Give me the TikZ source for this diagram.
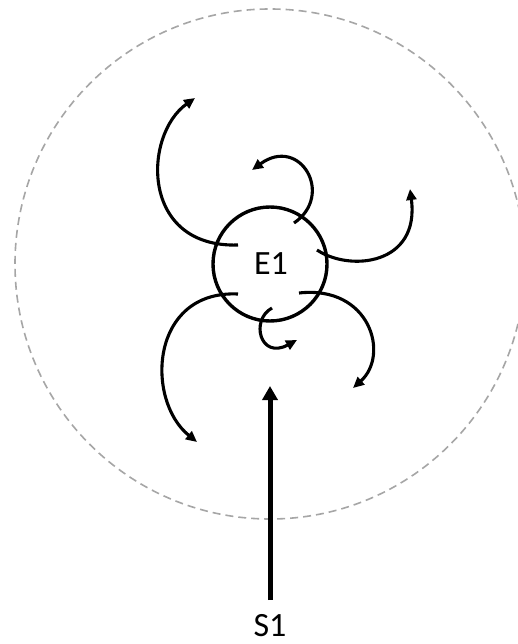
\documentclass[tikz,border=0pt]{standalone}
\usepackage{fontspec}
\setmainfont{Carlito}
\usetikzlibrary{arrows.meta}
\definecolor{dashgray}{HTML}{A6A6A6}
\tikzset{
  flow/.style={line width=3.1pt, -{Triangle[length=11pt,width=10pt]}},
  bigflow/.style={line width=5pt, -{Triangle[length=14pt,width=15pt]}},
  zone/.style={draw=dashgray, line width=1.6pt, dash pattern=on 8pt off 5pt},
  entity/.style={circle, draw, line width=3.4pt, minimum size=114pt, inner sep=0pt},
  lbl/.style={font=\fontsize{34}{36}\selectfont, inner sep=0pt}
}
\begin{document}
\begin{tikzpicture}[x=1pt,y=-1pt]
\useasboundingbox (0,0) rectangle (517,644);
\fill[white] (0,0) rectangle (517,644);
\node[zone, circle, minimum size=510pt, inner sep=0pt] (zone) at (270,264) {};
\node[entity] (E1) at (270,264) {};
\node[lbl] (E1t) at (271,264) {E1};
\node[lbl] (S1) at (270,626) {S1};
% coordinates
\coordinate (a1s) at (238,245); \coordinate (a1e) at (195,98);
\coordinate (a2s) at (294,223); \coordinate (a2e) at (252,170);
\coordinate (a3s) at (317,250); \coordinate (a3e) at (410,189);
\coordinate (a4s) at (238,294); \coordinate (a4e) at (197,442);
\coordinate (a5s) at (272,308); \coordinate (a5e) at (297,340);
\coordinate (a6s) at (299,293); \coordinate (a6e) at (353,388);
\coordinate (s1s) at (270,600); \coordinate (s1e) at (270,386);
\draw[flow] (a1s) .. controls (140,248) and (143,135) .. (a1e);
\draw[flow] (a2s) .. controls (335,195) and (300,135) .. (a2e);
\draw[flow] (a3s) .. controls (350,272) and (420,265) .. (a3e);
\draw[flow] (a4s) .. controls (150,290) and (145,400) .. (a4e);
\draw[flow] (a5s) .. controls (250,320) and (260,360) .. (a5e);
\draw[flow] (a6s) .. controls (370,285) and (390,355) .. (a6e);
\draw[bigflow] (s1s) -- (s1e);
\end{tikzpicture}
\end{document}
